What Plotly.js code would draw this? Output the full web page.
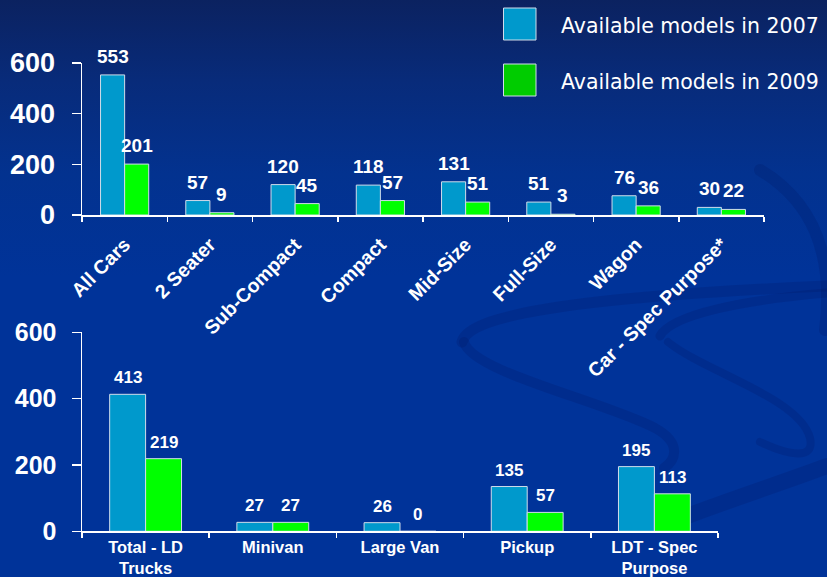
<!DOCTYPE html>
<html><head><meta charset="utf-8">
<script src="https://cdn.plot.ly/plotly-3.0.1.min.js"></script>
<style>
html,body{margin:0;padding:0;}
body{width:827px;height:577px;overflow:hidden;position:relative;
background:linear-gradient(to bottom,#0b2260 0%,#082b7a 14%,#03328f 30%,#003399 48%,#003399 100%);}
#deco{position:absolute;left:0;top:0;}
#chart{position:absolute;left:0;top:0;width:827px;height:577px;}
</style></head><body>
<svg id="deco" width="827" height="577" xmlns="http://www.w3.org/2000/svg">
 <g fill="none" stroke="rgba(0,22,95,0.2)" stroke-linecap="round">
  <path d="M 462 342 C 470 312, 600 296, 827 286" stroke-width="11"/>
  <path d="M 464 342 C 472 372, 600 400, 655 428 C 682 443, 676 460, 664 468" stroke-width="10"/>
  <path d="M 660 336 C 672 314, 745 300, 827 293" stroke-width="9"/>
  <path d="M 668 342 C 705 372, 800 398, 810 438 C 815 460, 790 456, 760 442" stroke-width="8"/>
  <path d="M 690 515 C 735 498, 790 480, 827 466" stroke-width="16"/>
  <path d="M 760 170 C 810 200, 835 250, 825 330" stroke-width="12"/>
 </g>
</svg>
<div id="chart"></div>
<script>
const carCats = ['All Cars','2 Seater','Sub-Compact','Compact','Mid-Size','Full-Size','Wagon','Car - Spec Purpose*'];
const cars2007 = [553,57,120,118,131,51,76,30];
const cars2009 = [201,9,45,57,51,3,36,22];
const truckCats = ['Total - LD<br>Trucks','Minivan','Large Van','Pickup','LDT - Spec<br>Purpose'];
const trucks2007 = [413,27,26,135,195];
const trucks2009 = [219,27,0,57,113];
const seriesNames = ['Available models in 2007','Available models in 2009'];
const yTicks = [0,200,400,600];

const W=827,H=577;
const blue='#0099cc', green='#00ff00', legGreen='#00cc00', outline='#d0dcea';
const bold={family:'Liberation Sans, Arial, sans-serif',color:'#ffffff',weight:'bold'};
const gap=0.435;

const top1=[82,764,63,215], bot=[82,718,332.3,531.3];
function dom(a,b,len){return [a/len,b/len];}

const traces=[
 {type:'bar',x:carCats,y:cars2007,name:seriesNames[0],marker:{color:blue,line:{color:outline,width:1}},xaxis:'x',yaxis:'y',hoverinfo:'none'},
 {type:'bar',x:carCats,y:cars2009,name:seriesNames[1],marker:{color:green,line:{color:outline,width:1}},xaxis:'x',yaxis:'y',hoverinfo:'none'},
 {type:'bar',x:truckCats,y:trucks2007,name:seriesNames[0],marker:{color:blue,line:{color:outline,width:1}},xaxis:'x2',yaxis:'y2',hoverinfo:'none'},
 {type:'bar',x:truckCats,y:trucks2009,name:seriesNames[1],marker:{color:green,line:{color:outline,width:1}},xaxis:'x2',yaxis:'y2',hoverinfo:'none'}
];

const ann=[];
const topCat=(top1[1]-top1[0])/carCats.length, botCat=(bot[1]-bot[0])/truckCats.length;
const topShift=topCat*(1-gap)/4, botShift=botCat*(1-gap)/4;
function addLabels(cats,vals,xa,ya,shift,size,ysh){
  cats.forEach((c,i)=>ann.push({x:c,y:vals[i],xref:xa,yref:ya,xshift:shift,yshift:ysh,yanchor:'bottom',
    text:String(vals[i]),showarrow:false,font:Object.assign({},bold,{size:size})}));
}
addLabels(carCats,cars2007,'x','y',-topShift,19,6);
addLabels(carCats,cars2009,'x','y',topShift,19,6);
addLabels(truckCats,trucks2007,'x2','y2',-botShift,17,5);
addLabels(truckCats,trucks2009,'x2','y2',botShift,17,5);

// custom legend
const legY=[26,82];
[blue,legGreen].forEach((c,i)=>{
  ann.push({xref:'paper',yref:'paper',x:559/W,y:1-legY[i]/H,xanchor:'left',yanchor:'middle',showarrow:false,
    text:seriesNames[i],font:{family:'DejaVu Sans, Verdana, sans-serif',size:20.5,color:'#ffffff'}});
});
const shapes=[[8,40],[64,96]].map((r,i)=>({type:'rect',xref:'paper',yref:'paper',x0:503.5/W,x1:536/W,y0:1-r[1]/H,y1:1-r[0]/H,
  fillcolor:i?legGreen:blue,line:{color:outline,width:1}}));

const xa={showline:true,linecolor:'#ffffff',linewidth:1.5,ticks:'outside',tickson:'boundaries',ticklen:5,tickcolor:'#ffffff',tickwidth:1.5,showgrid:false,fixedrange:true};
const ya={showline:true,linecolor:'#ffffff',linewidth:1.5,ticks:'outside',ticklen:9,tickcolor:'#ffffff',tickwidth:1.5,showgrid:false,zeroline:false,range:[0,600],tickvals:yTicks,fixedrange:true};

const layout={
 width:W,height:H,margin:{l:0,r:0,t:0,b:0},paper_bgcolor:'rgba(0,0,0,0)',plot_bgcolor:'rgba(0,0,0,0)',
 showlegend:false,barmode:'group',bargap:gap,bargroupgap:0,
 xaxis:Object.assign({},xa,{domain:dom(top1[0],top1[1],W),anchor:'y',tickangle:-45,ticklabelstandoff:9,tickfont:Object.assign({},bold,{size:19.5})}),
 yaxis:Object.assign({},ya,{domain:[1-top1[3]/H,1-top1[2]/H],anchor:'x',tickfont:Object.assign({},bold,{size:27}),ticklabelstandoff:11}),
 xaxis2:Object.assign({},xa,{domain:dom(bot[0],bot[1],W),anchor:'y2',tickangle:0,ticklabelstandoff:0,tickfont:Object.assign({},bold,{size:16.5})}),
 yaxis2:Object.assign({},ya,{domain:[1-bot[3]/H,1-bot[2]/H],anchor:'x2',tickfont:Object.assign({},bold,{size:25}),ticklabelstandoff:10}),
 annotations:ann,shapes:shapes
};
Plotly.newPlot('chart',traces,layout,{displayModeBar:false,staticPlot:true});
</script></body></html>
